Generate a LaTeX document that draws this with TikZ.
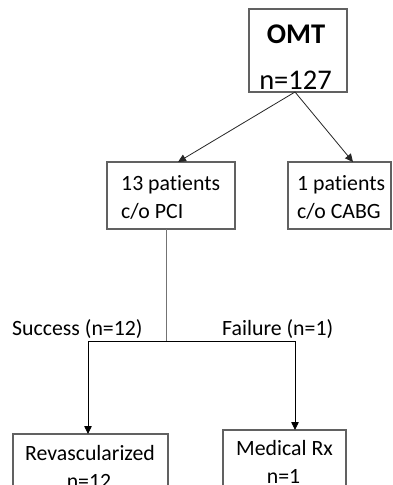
\documentclass[tikz,border=0pt]{standalone}
\usepackage{fontspec}
\setmainfont{Carlito}[Ligatures=NoCommon]
\usetikzlibrary{arrows.meta}
\tikzset{
  box/.style={draw=black!62, line width=1.1pt, fill=white, inner sep=0pt},
  txt/.style={inner sep=0pt, font=\fontsize{21.8}{26}\selectfont},
  bigtxt/.style={inner sep=0pt, font=\fontsize{28.5}{34}\selectfont},
  conn/.style={draw=black!85, line width=0.8pt},
  arr/.style={conn, -{Triangle[length=8pt,width=7.5pt]}},
}
\begin{document}
\begin{tikzpicture}[x=1pt,y=-1pt]
\clip (0,0) rectangle (393,485);
\fill[white] (0,0) rectangle (393,485);
% boxes
\node[box, minimum width=98pt, minimum height=83pt] (omt) at (298,50.5) {};
\node[box, minimum width=128pt, minimum height=67pt] (pci) at (171,195.5) {};
\node[box, minimum width=103pt, minimum height=67pt] (cabg) at (339.5,195.5) {};
\node[box, minimum width=155pt, minimum height=90pt] (rev) at (90.5,479) {};
\node[box, minimum width=123pt, minimum height=94pt] (med) at (284.5,477) {};
% texts
\node[bigtxt, anchor=base, font=\fontsize{28.5}{34}\selectfont\bfseries] (omtA) at (296,43) {OMT};
\node[bigtxt, anchor=base] (omtB) at (295.5,89) {n=127};
\node[txt, anchor=base west] (pciA) at (121,190) {13 patients};
\node[txt, anchor=base west] (pciB) at (121,218) {c/o PCI};
\node[txt, anchor=base west] (cabgA) at (297,190) {1 patients};
\node[txt, anchor=base west] (cabgB) at (297,218) {c/o CABG};
\node[txt, anchor=base] (revA) at (90,460) {Revascularized};
\node[txt, anchor=base] (revB) at (89,488) {n=12};
\node[txt, anchor=base] (medA) at (284.5,455) {Medical Rx};
\node[txt, anchor=base] (medB) at (283.5,483) {n=1};
\node[txt, anchor=base west] (succ) at (12,335) {Success (n=12)};
\node[txt, anchor=base west] (fail) at (222,335) {Failure (n=1)};
% connector points
\coordinate (omtb) at (295,92);
\coordinate (pcit) at (178,162);
\coordinate (cabgt) at (353,162);
\coordinate (pcib) at (166,229);
\coordinate (split) at (166,341);
\coordinate (hl) at (88,341);
\coordinate (hr) at (295,341);
\coordinate (revt) at (88,434);
\coordinate (medt) at (295,430);
% connectors
\draw[arr] (omtb) -- (pcit);
\draw[arr] (omtb) -- (cabgt);
\draw[conn, draw=black!55] (pcib) -- (split);
\draw[conn, draw=black] (hl) -- (hr);
\draw[arr, draw=black] (hl) -- (revt);
\draw[arr, draw=black] (hr) -- (medt);
\end{tikzpicture}
\end{document}
